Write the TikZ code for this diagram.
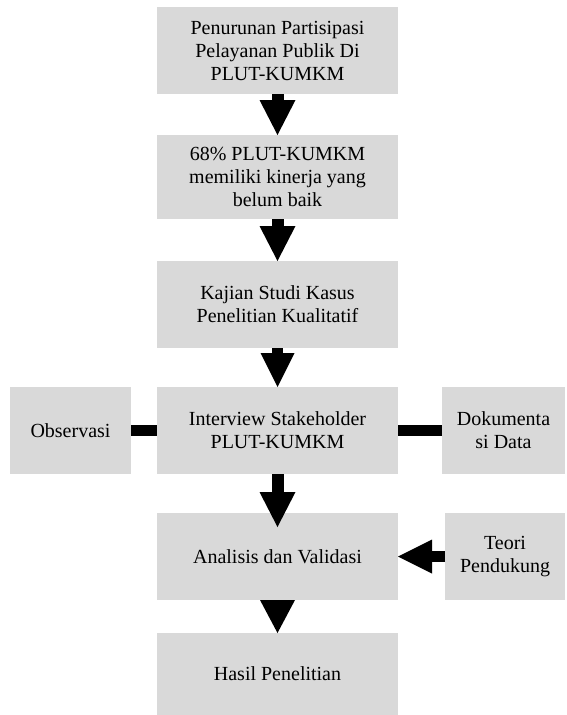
\documentclass[tikz,border=0pt]{standalone}
\usepackage{fontspec}
\setmainfont{Liberation Serif}[Ligatures=TeX]
\newfontfamily\hurufkotak{Liberation Serif}
\usepackage{xcolor}
\usepackage{tikz}
\usetikzlibrary{arrows.meta,positioning}
\definecolor{abu}{RGB}{217,217,217}
\tikzset{
  kotak/.style={rectangle, fill=abu, outer sep=0pt, inner sep=2pt,
                minimum width=241pt, minimum height=87pt,
                align=center, font=\hurufkotak\fontsize{20}{23}\selectfont},
  kotaksisi/.style={kotak, minimum width=121pt},
  panah/.style={-{Triangle[length=35pt,width=36pt,line width=0pt]}, line width=12pt},
  panahkecil/.style={-{Triangle[length=34pt,width=34pt,line width=0pt]}, line width=11pt},
  garis/.style={line width=11pt}
}

\begin{document}
\begin{tikzpicture}[x=1pt,y=-1pt]
  \useasboundingbox (0,0) rectangle (566,715);
  \node[kotak] (masalah) at (277.5,50.5) {Penurunan Partisipasi\\Pelayanan Publik Di\\PLUT-KUMKM};
  \node[kotak, minimum height=84pt, below=41pt of masalah] (kinerja) {68\% PLUT-KUMKM\\memiliki kinerja yang\\belum baik};
  \node[kotak, below=42pt of kinerja] (kajian) {Kajian Studi Kasus\\Penelitian Kualitatif};
  \node[kotak, below=39pt of kajian] (interview) {Interview Stakeholder\\PLUT-KUMKM};
  \node[kotak, below=39pt of interview] (analisis) {Analisis dan Validasi};
  \node[kotak, minimum height=82pt, below=33pt of analisis] (hasil) {Hasil Penelitian};
  \node[kotaksisi, left=26pt of interview] (observasi) {Observasi};
  \node[kotaksisi, minimum width=123pt, right=44pt of interview] (dokumentasi) {Dokumenta\\si Data};
  \node[kotaksisi, minimum width=120pt, right=47pt of analisis] (teori) {Teori\\Pendukung};
  % panah alur utama
  \draw[panah] (masalah) -- (kinerja);
  \draw[panah] (kinerja) -- (kajian);
  \draw[panahkecil] (kajian) -- (interview);
  \draw[panah] (interview.south) -- ([yshift=-14pt]analisis.north);
  \draw[panah, -{Triangle[length=33pt,width=35pt,line width=0pt]}] (analisis) -- (hasil);
  % sumber data
  \draw[garis] (observasi) -- (interview);
  \draw[garis] (dokumentasi) -- (interview);
  \draw[panahkecil] (teori) -- (analisis);
\end{tikzpicture}
\end{document}
